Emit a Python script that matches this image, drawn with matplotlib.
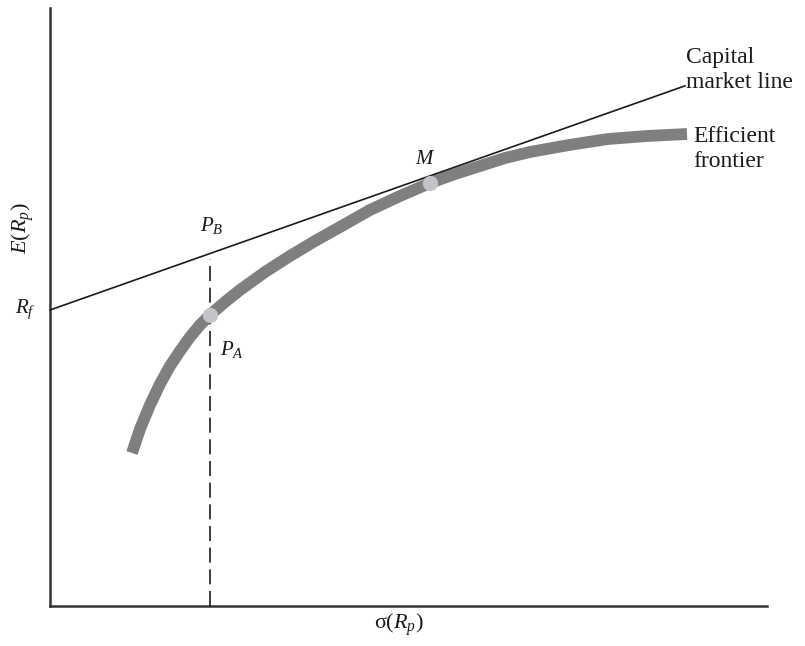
import matplotlib
matplotlib.use("Agg")
import matplotlib.pyplot as plt

plt.rcParams["mathtext.fontset"] = "custom"
plt.rcParams["mathtext.rm"] = "Liberation Serif"
plt.rcParams["mathtext.it"] = "Liberation Serif:italic"
plt.rcParams["font.family"] = ["Liberation Serif", "DejaVu Serif"]

# Efficient frontier: risk (sigma) vs expected return
frontier_sigma = [82, 90, 100, 110, 120, 130, 140, 150, 160, 175, 190, 215, 240,
                  265, 290, 320, 350, 380, 405, 430, 455, 480, 519, 558, 597, 637]
frontier_ret = [153, 177, 201, 222, 240, 255, 269, 281, 291, 304, 316, 334, 350,
                365, 379, 396, 410, 423, 432, 440, 448, 454, 461, 467, 470, 472]

# Capital market line from the risk-free rate
rf = 296
cml_slope = 0.353
cml_sigma = [0, 635]

# Highlighted portfolios
m_point = (380, 423)
pa_point = (160, 291)

fig = plt.figure(figsize=(8.05, 6.46), dpi=100)
ax = fig.add_axes([50 / 805, 40 / 646, 717 / 805, 598 / 646])
ax.set_xlim(0, 717)
ax.set_ylim(0, 598)

for s in ["top", "right"]:
    ax.spines[s].set_visible(False)
for s in ["left", "bottom"]:
    ax.spines[s].set_color("#333333")
    ax.spines[s].set_linewidth(1.8)
ax.set_xticks([])
ax.set_yticks([])

# Frontier curve
ax.plot(frontier_sigma, frontier_ret, color="#7f7f7f", lw=8.5, solid_capstyle="butt",
        solid_joinstyle="round", zorder=2)

# Capital market line
cml_ret = [rf + cml_slope * s for s in cml_sigma]
ax.plot(cml_sigma, cml_ret, color="#1a1a1a", lw=1.2, zorder=3, clip_on=False)

# Vertical dashed line through P_A up to P_B
pb_ret = rf + cml_slope * pa_point[0]
ax.plot([pa_point[0], pa_point[0]], [0, pb_ret - 5], color="#1a1a1a", lw=1.2,
        dashes=(9, 4), zorder=3)

# Portfolio markers
for pt in (m_point, pa_point):
    ax.plot(*pt, "o", ms=11, color="#c4c4c8", mec="none", zorder=4)

tc = "#1a1a1a"
ax.text(m_point[0] - 5, m_point[1] + 24, "$M$", fontsize=15, color=tc, ha="center", va="center")
ax.text(pa_point[0] + 2, pb_ret + 28, "$P_B$", fontsize=15, color=tc, ha="center", va="center")
ax.text(pa_point[0] + 22, pa_point[1] - 34, "$P_A$", fontsize=15, color=tc, ha="center", va="center")
ax.text(-14, rf + 1, "$R_f$", fontsize=15, color=tc, ha="right", va="center", clip_on=False)
ax.text(-27, 378, "$E(R_p)$", fontsize=16, color=tc, ha="center", va="center", rotation=90)
ax.text(349, -19, "σ($R_p$)", fontsize=16, color=tc, ha="center", va="center")

ax.text(636, 536, "Capital\nmarket line", fontsize=17, color=tc, ha="left", va="center",
        linespacing=1.3)
ax.text(643, 457, "Efficient\nfrontier", fontsize=17, color=tc, ha="left", va="center",
        linespacing=1.3)

fig.savefig("out.png", dpi=100)
